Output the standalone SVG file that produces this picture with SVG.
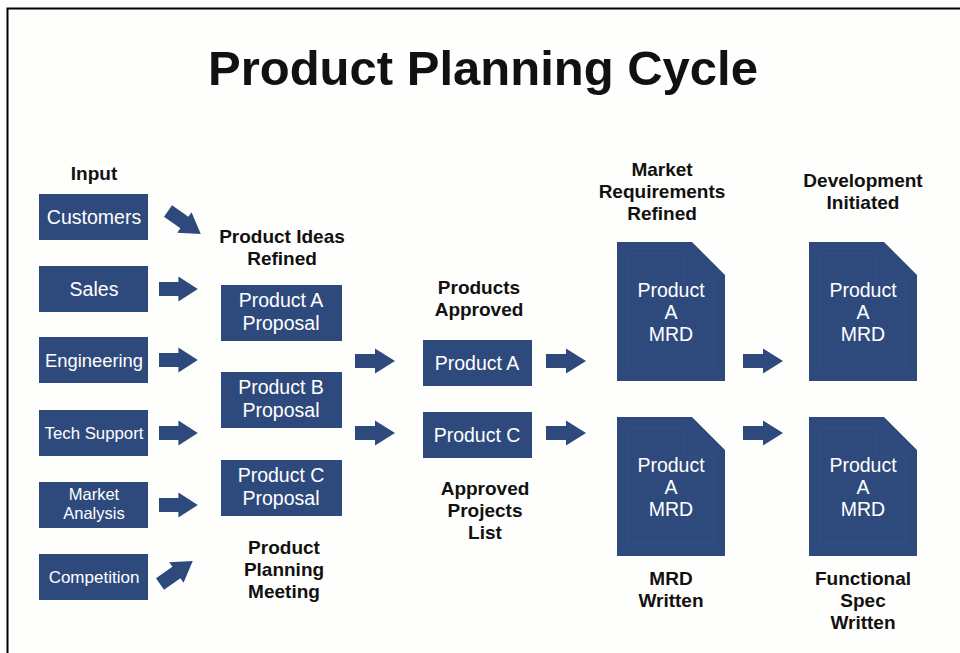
<svg xmlns="http://www.w3.org/2000/svg" xmlns:xlink="http://www.w3.org/1999/xlink" width="960" height="653" viewBox="0 0 960 653">
<style>
.bx{fill:#2e4a7d}
.ar{fill:#2e4a7d}
.wt{fill:#ffffff;font-family:"Liberation Sans",Arial,sans-serif;font-size:19.5px;text-anchor:middle}
.hd{fill:#111111;font-family:"Liberation Sans",Arial,sans-serif;font-size:19px;font-weight:bold;text-anchor:middle}
.fl{fill:none;stroke:#355184;stroke-width:1}
</style>
<defs>
<path id="doc" d="M0,0 H75 L108,33 V139 H0 Z"/>
<path id="arw" d="M0,-7 H20 V-12.5 L40,0 L20,12.5 V7 H0 Z"/>
<path id="inner" d="M11,11 H66 V40 H97 V126 H11 Z"/>
</defs>
<rect x="0" y="0" width="960" height="653" fill="#fefefc"/>
<path d="M7.5,653 V8.5 H960" fill="none" stroke="#000" stroke-width="2"/>
<text x="483" y="85" style="font-family:'Liberation Sans',Arial,sans-serif;font-size:49px;font-weight:bold;fill:#111;text-anchor:middle">Product Planning Cycle</text>

<g id="headings">
<text class="hd" x="94" y="180">Input</text>
<text class="hd" x="282" y="243">Product Ideas</text>
<text class="hd" x="282" y="265">Refined</text>
<text class="hd" x="479" y="294">Products</text>
<text class="hd" x="479" y="316">Approved</text>
<text class="hd" x="662" y="176">Market</text>
<text class="hd" x="662" y="198">Requirements</text>
<text class="hd" x="662" y="220">Refined</text>
<text class="hd" x="863" y="187">Development</text>
<text class="hd" x="863" y="209">Initiated</text>
<text class="hd" x="485" y="495">Approved</text>
<text class="hd" x="485" y="517">Projects</text>
<text class="hd" x="485" y="539">List</text>
<text class="hd" x="284" y="554">Product</text>
<text class="hd" x="284" y="576">Planning</text>
<text class="hd" x="284" y="598">Meeting</text>
<text class="hd" x="671" y="585">MRD</text>
<text class="hd" x="671" y="607">Written</text>
<text class="hd" x="863" y="585">Functional</text>
<text class="hd" x="863" y="607">Spec</text>
<text class="hd" x="863" y="629">Written</text>
</g>

<g id="customers"><rect class="bx" x="39" y="194" width="109" height="46"/><text class="wt" x="94" y="224">Customers</text></g>
<g id="sales"><rect class="bx" x="39" y="266" width="109" height="46"/><text class="wt" x="94" y="296">Sales</text></g>
<g id="engineering"><rect class="bx" x="39" y="337" width="109" height="46"/><text class="wt" x="94" y="366.5" style="font-size:18.4px">Engineering</text></g>
<g id="tech-support"><rect class="bx" x="39" y="410" width="109" height="46"/><text class="wt" x="94" y="439" style="font-size:16.8px">Tech Support</text></g>
<g id="market-analysis"><rect class="bx" x="39" y="482" width="109" height="46"/><text class="wt" x="94" y="500" style="font-size:16.5px">Market</text><text class="wt" x="94" y="519" style="font-size:16.5px">Analysis</text></g>
<g id="competition"><rect class="bx" x="39" y="554" width="109" height="46"/><text class="wt" x="94" y="583" style="font-size:17px">Competition</text></g>

<g id="proposal-a"><rect class="bx" x="221" y="285" width="121" height="56"/><text class="wt" x="281" y="307">Product A</text><text class="wt" x="281" y="330">Proposal</text></g>
<g id="proposal-b"><rect class="bx" x="221" y="372" width="121" height="56"/><text class="wt" x="281" y="394">Product B</text><text class="wt" x="281" y="417">Proposal</text></g>
<g id="proposal-c"><rect class="bx" x="221" y="460" width="121" height="56"/><text class="wt" x="281" y="482">Product C</text><text class="wt" x="281" y="505">Proposal</text></g>

<g id="product-a"><rect class="bx" x="423" y="340" width="109" height="46"/><text class="wt" x="477" y="370">Product A</text></g>
<g id="product-c"><rect class="bx" x="423" y="412" width="109" height="46"/><text class="wt" x="477" y="442">Product C</text></g>

<g id="mrd-1"><use xlink:href="#doc" class="bx" x="617" y="242"/><use xlink:href="#inner" class="fl" x="617" y="242"/><text class="wt" x="671" y="297">Product</text><text class="wt" x="671" y="319">A</text><text class="wt" x="671" y="341">MRD</text></g>
<g id="mrd-2"><use xlink:href="#doc" class="bx" x="617" y="417"/><use xlink:href="#inner" class="fl" x="617" y="417"/><text class="wt" x="671" y="472">Product</text><text class="wt" x="671" y="494">A</text><text class="wt" x="671" y="516">MRD</text></g>
<g id="dev-1"><use xlink:href="#doc" class="bx" x="809" y="242"/><use xlink:href="#inner" class="fl" x="809" y="242"/><text class="wt" x="863" y="297">Product</text><text class="wt" x="863" y="319">A</text><text class="wt" x="863" y="341">MRD</text></g>
<g id="spec-1"><use xlink:href="#doc" class="bx" x="809" y="417"/><use xlink:href="#inner" class="fl" x="809" y="417"/><text class="wt" x="863" y="472">Product</text><text class="wt" x="863" y="494">A</text><text class="wt" x="863" y="516">MRD</text></g>

<g id="connectors" class="ar">
<use xlink:href="#arw" transform="translate(168,211) rotate(35)"/>
<use xlink:href="#arw" transform="translate(159,289) scale(0.97,1)"/>
<use xlink:href="#arw" transform="translate(159,360) scale(0.97,1)"/>
<use xlink:href="#arw" transform="translate(159,433) scale(0.97,1)"/>
<use xlink:href="#arw" transform="translate(159,505) scale(0.97,1)"/>
<use xlink:href="#arw" transform="translate(160,584) rotate(-35)"/>
<use xlink:href="#arw" transform="translate(355,361)"/>
<use xlink:href="#arw" transform="translate(355,433)"/>
<use xlink:href="#arw" transform="translate(546,361)"/>
<use xlink:href="#arw" transform="translate(546,433)"/>
<use xlink:href="#arw" transform="translate(743,361)"/>
<use xlink:href="#arw" transform="translate(743,433)"/>
</g>
</svg>
